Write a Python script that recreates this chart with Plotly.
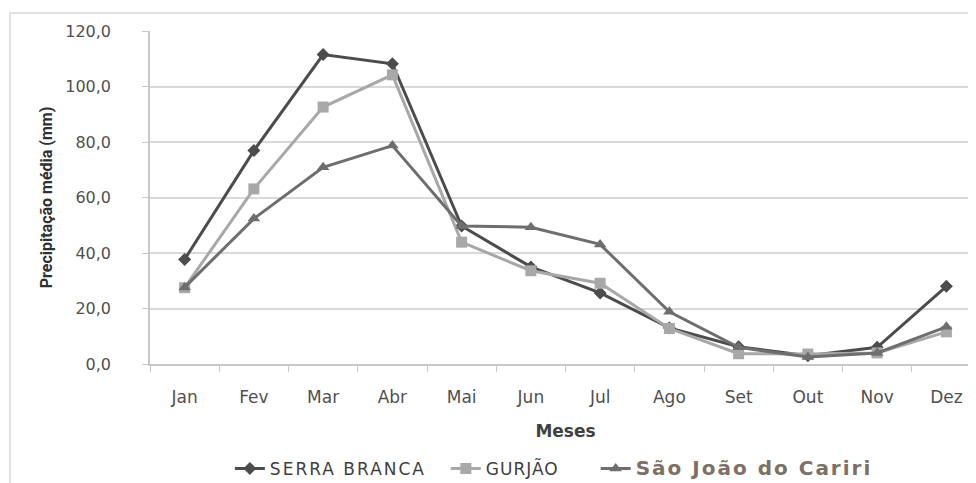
import plotly.graph_objects as go

meses = ["Jan", "Fev", "Mar", "Abr", "Mai", "Jun", "Jul", "Ago", "Set", "Out", "Nov", "Dez"]
serra_branca = [37.7, 76.9, 111.5, 108.2, 49.7, 35.0, 25.6, 13.0, 6.2, 3.0, 6.0, 28.0]
gurjao = [27.5, 63.1, 92.6, 104.2, 43.9, 33.6, 29.1, 12.8, 3.7, 3.6, 4.0, 11.6]
sao_joao = [27.6, 52.4, 70.9, 78.7, 49.7, 49.3, 43.1, 18.8, 6.0, 2.5, 4.0, 13.4]
y_ticks = [0, 20, 40, 60, 80, 100, 120]
y_labels = ["0,0", "20,0", "40,0", "60,0", "80,0", "100,0", "120,0"]

NB = "\u00a0"

fig = go.Figure()
fig.add_trace(go.Scatter(
    x=meses, y=serra_branca,
    name="<span style='letter-spacing:2px'>SERRA BRANCA" + NB * 2 + "</span>", mode="lines+markers",
    line=dict(color="#4c4c4c", width=3),
    marker=dict(symbol="diamond", size=10, color="#4c4c4c"),
))
fig.add_trace(go.Scatter(
    x=meses, y=gurjao,
    name="<span style='letter-spacing:1px'>GURJÃO" + NB * 5 + "</span>", mode="lines+markers",
    line=dict(color="#a8a8a8", width=3),
    marker=dict(symbol="square", size=11, color="#a8a8a8"),
))
fig.add_trace(go.Scatter(
    x=meses, y=sao_joao,
    name="<span style='color:#7d7064;font-size:20px;font-weight:bold;letter-spacing:2px'>São João do Cariri</span>",
    mode="lines+markers",
    line=dict(color="#6e6e6e", width=3),
    marker=dict(symbol="triangle-up", size=11, color="#6e6e6e"),
))

fig.update_layout(
    width=976, height=483,
    margin=dict(l=142, r=3, t=23, b=127),
    paper_bgcolor="white", plot_bgcolor="white",
    font=dict(family="DejaVu Sans, Open Sans, sans-serif", size=16, color="#505050"),
    showlegend=True,
    legend=dict(
        orientation="h", x=0.486, xanchor="center", y=-0.315, yanchor="middle",
        font=dict(family="DejaVu Sans, sans-serif", size=17, color="#404040"),
        itemwidth=30, tracegroupgap=0, traceorder="normal",
    ),
    shapes=[dict(
        type="rect", xref="paper", yref="paper",
        x0=-0.1685, x1=1.2, y0=-0.6, y1=1.054,
        line=dict(color="#d9d9d9", width=1.5), fillcolor="rgba(0,0,0,0)", layer="below",
    )],
)
fig.update_xaxes(
    type="category", range=[-0.5, 11.5], automargin=False,
    showgrid=False, showline=True, linecolor="#c8c8c8", linewidth=1.5,
    ticks="outside", tickson="boundaries", ticklen=6, tickcolor="#c8c8c8",
    ticklabelstandoff=17,
    tickfont=dict(family="DejaVu Sans, sans-serif", size=17, color="#505050"),
    title=dict(text="<b>Meses</b>", font=dict(family="DejaVu Sans, sans-serif", size=17, color="#404040"), standoff=19),
)
fig.update_yaxes(
    range=[0, 120], tickvals=y_ticks, ticktext=y_labels, automargin=False,
    showgrid=True, gridcolor="#d9d9d9", gridwidth=1.5,
    showline=True, linecolor="#c8c8c8", linewidth=1.5,
    ticks="outside", ticklen=6, tickcolor="#c8c8c8",
    ticklabelstandoff=28,
    tickfont=dict(family="DejaVu Sans, sans-serif", size=16, color="#505050"),
    zeroline=False,
    title=dict(text="<b>Precipitação média (mm)</b>",
               font=dict(family="Liberation Sans Narrow, Roboto, sans-serif", size=16, color="#303030"),
               standoff=9),
)

fig.write_html("out.html")
